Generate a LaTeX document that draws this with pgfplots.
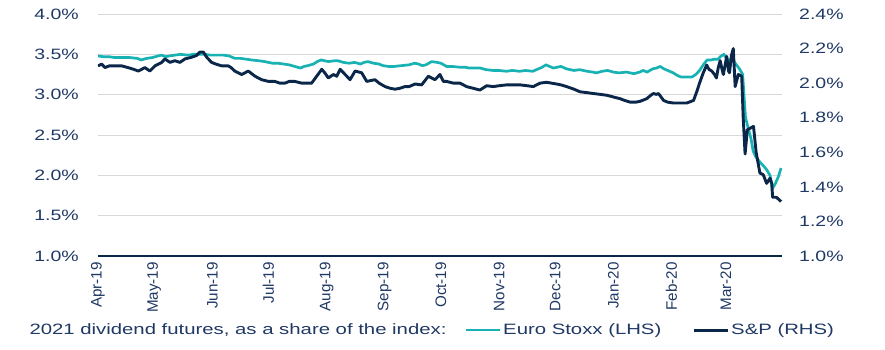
\documentclass[border=0pt]{standalone}
\usepackage{pgfplots}
\pgfplotsset{compat=1.18}
\usepackage{fontspec}
\setmainfont{Liberation Sans}[FakeStretch=1.3]
\newfontfamily\rotfont{Liberation Sans}
\newfontfamily\legfont{Liberation Sans}[FakeStretch=1.355]
\definecolor{teal1}{RGB}{24,178,180}
\definecolor{navy1}{RGB}{10,38,72}
\definecolor{txt}{RGB}{31,56,100}
\definecolor{grd}{RGB}{217,217,217}
\begin{document}
\begin{tikzpicture}
\pgfplotsset{
  common/.style={
    scale only axis, width=684bp, height=242bp,
    xmin=0, xmax=365,
    major tick length=0pt,
    tick label style={font=\fontsize{15bp}{18bp}\selectfont, text=txt},
  }
}
\begin{axis}[common,
  ymin=1, ymax=4,
  ytick={1,1.5,2,2.5,3,3.5,4},
  axis y line*=left, y axis line style={draw=none},
  axis x line*=bottom, x axis line style={navy1, line width=1.2bp},
  ymajorgrids, grid style={grd, line width=0.9bp},
  yticklabel={\pgfmathprintnumber[fixed,fixed zerofill,precision=1,assume math mode=true]{\tick}\%},
  yticklabel style={inner sep=0pt, anchor=east, xshift=-19bp},
  xtick={0,30,61,91,122,153,183,214,244,275,306,335},
  xticklabels={Apr-19,May-19,Jun-19,Jul-19,Aug-19,Sep-19,Oct-19,Nov-19,Dec-19,Jan-20,Feb-20,Mar-20},
  xticklabel style={font=\rotfont\fontsize{15.2bp}{17bp}\selectfont, rotate=90, anchor=east, inner sep=0pt},
  xticklabel shift={6bp},
]
\addplot[teal1, line width=2.7bp, line join=round] coordinates {
(0,3.48)(3,3.47)(6,3.47)(9,3.46)(13,3.46)(17,3.46)(21,3.45)(23,3.43)(26,3.45)(29,3.46)
(32,3.48)(34,3.49)(36,3.47)(38,3.48)(41,3.49)(44,3.50)(48,3.49)(51,3.50)(54,3.50)(57,3.50)
(60,3.49)(64,3.49)(67,3.49)(70,3.48)(73,3.45)(76,3.45)(79,3.44)(82,3.43)(86,3.42)(89,3.41)
(93,3.39)(96,3.39)(99,3.38)(102,3.37)(105,3.35)(108,3.33)(110,3.35)(112,3.36)(115,3.38)(117,3.41)
(119,3.43)(121,3.42)(123,3.41)(126,3.42)(128,3.42)(131,3.40)(134,3.39)(137,3.40)(140,3.38)(142,3.40)
(144,3.41)(147,3.39)(150,3.38)(152,3.36)(155,3.35)(158,3.35)(162,3.36)(166,3.37)(169,3.39)(171,3.38)
(173,3.36)(175,3.37)(178,3.41)(181,3.40)(183,3.39)(186,3.35)(189,3.35)(193,3.34)(196,3.34)(198,3.33)
(201,3.33)(204,3.33)(207,3.31)(211,3.30)(214,3.30)(218,3.29)(221,3.30)(225,3.29)(228,3.30)(232,3.29)
(234,3.31)(237,3.34)(239,3.37)(241,3.35)(243,3.33)(245,3.34)(247,3.35)(250,3.32)(254,3.30)(257,3.31)
(261,3.29)(264,3.28)(266,3.27)(269,3.29)(272,3.30)(275,3.28)(278,3.27)(282,3.28)(286,3.26)(289,3.28)
(291,3.30)(293,3.28)(296,3.32)(298,3.33)(300,3.35)(302,3.32)(304,3.30)(307,3.27)(309,3.24)(311,3.22)
(314,3.22)(317,3.22)(319,3.25)(321,3.30)(323,3.37)(325,3.43)(327,3.43)(329,3.44)(331,3.44)(332,3.47)
(334,3.50)(335.5,3.44)(337,3.43)(339,3.42)(341,3.36)(342.6,3.31)(344,3.25)(345.5,2.72)(347,2.58)(348.5,2.45)
(349.6,2.30)(351,2.23)(353,2.17)(355,2.12)(356.8,2.07)(358.6,2.00)(360,1.84)(361.5,1.90)(363,1.98)(364.5,2.09)
};
\end{axis}
\begin{axis}[common,
  ymin=1, ymax=2.4,
  ytick={1,1.2,1.4,1.6,1.8,2.0,2.2,2.4},
  axis x line=none,
  axis y line*=right, y axis line style={draw=none},
  yticklabel={\pgfmathprintnumber[fixed,fixed zerofill,precision=1,assume math mode=true]{\tick}\%},
  yticklabel style={inner sep=0pt, anchor=west, xshift=17bp},
  legend columns=3,
  legend style={draw=none, fill=none, at={(0.488,-0.306)}, anchor=center,
    font=\legfont\fontsize{15bp}{18bp}\selectfont, text=txt,
    inner sep=0pt, column sep=0pt,
    nodes={inner sep=1.5bp}},
  legend image code/.code={\draw[#1] (0bp,0bp) -- (34bp,0bp);},
]
\addlegendimage{empty legend}
\addlegendentry{2021 dividend futures,\ as a share of the index:\hspace*{17bp}}
\addlegendimage{teal1, line width=2.7bp}
\addlegendentry{Euro Stoxx (LHS)\hspace*{30bp}}
\addplot[navy1, line width=2.9bp, line join=round] coordinates {
(0,2.10)(2,2.11)(3.7,2.09)(6,2.10)(9,2.10)(12.6,2.10)(16,2.09)(19,2.08)(21.5,2.07)(23.3,2.08)
(25,2.09)(27.7,2.07)(30.4,2.10)(34,2.12)(35.7,2.14)(38.4,2.12)(41,2.13)(43.7,2.12)(46.4,2.14)(50,2.15)
(52.6,2.16)(54.4,2.18)(56.2,2.18)(58,2.15)(60.6,2.12)(63,2.11)(66,2.10)(69.5,2.10)(71,2.09)(73,2.07)
(76.7,2.05)(80.2,2.07)(83.8,2.04)(87.3,2.02)(91,2.01)(94.4,2.01)(97,2.00)(99.8,2.00)(102,2.01)(105,2.01)
(108.7,2.00)(112,2.00)(114,2.00)(116.7,2.04)(119.4,2.08)(121,2.06)(122.9,2.03)(125.6,2.05)(127.4,2.04)(129.2,2.08)
(131.9,2.05)(134.5,2.02)(137.2,2.07)(140.7,2.06)(143.4,2.01)(147.8,2.02)(150,2.00)(153.2,1.98)(156,1.97)(158.5,1.965)
(161,1.97)(163.8,1.98)(166,1.98)(169.2,1.995)(172.7,1.99)(176.3,2.04)(178,2.03)(179.8,2.02)(182.5,2.05)(184.3,2.01)
(186,2.01)(189.6,2.00)(193.2,2.00)(196.7,1.98)(200.3,1.97)(203.8,1.96)(207.4,1.985)(210.9,1.98)(214,1.985)(218.1,1.99)
(222,1.99)(225.2,1.99)(229,1.985)(232.3,1.98)(235.9,2.00)(239.4,2.005)(242,2.00)(244.7,1.995)(247,1.99)(250.1,1.98)
(254,1.965)(257.2,1.95)(261,1.945)(264.3,1.94)(268,1.935)(271.5,1.93)(275,1.92)(278.6,1.91)(281,1.90)(284,1.89)
(287,1.89)(289.3,1.895)(292.8,1.91)(295,1.93)(296.4,1.94)(298,1.935)(299.1,1.94)(301.8,1.90)(304,1.89)(307.1,1.885)
(311,1.885)(314.2,1.885)(317.8,1.90)(319.5,1.95)(321,2.00)(323,2.06)(324.8,2.105)(326,2.08)(327.5,2.07)(329,2.05)
(330,2.03)(331,2.09)(332,2.13)(333,2.08)(333.7,2.05)(335.5,2.155)(336.5,2.07)(337,2.06)(338,2.16)(339,2.20)
(340,1.98)(341.7,2.05)(343.5,2.04)(344.3,1.80)(345.3,1.59)(346.5,1.73)(349.8,1.75)(351.2,1.60)(353.2,1.48)(355,1.47)
(356.8,1.42)(358.6,1.45)(359.5,1.42)(360,1.34)(362,1.34)(364.5,1.315)
};
\addlegendentry{S\&P (RHS)}
\end{axis}
\path (-98bp,-94bp) rectangle (787bp,256bp);
\end{tikzpicture}
\end{document}
